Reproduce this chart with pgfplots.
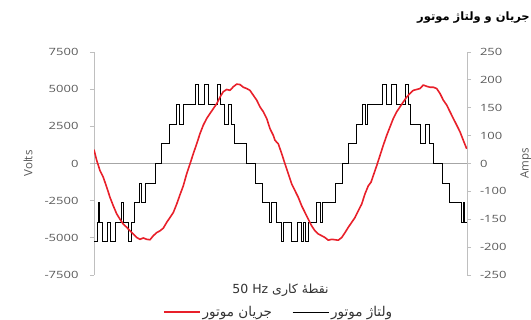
\documentclass[border=0pt]{standalone}
\usepackage{pgfplots}
\pgfplotsset{compat=1.18}
\usepackage{fontspec}
\setmainfont{Open Sans}
\newfontfamily\tickfont[FakeStretch=1.3]{Open Sans}
\newfontfamily\fa[Script=Arabic]{DejaVu Sans}
\TeXXeTstate=1
\definecolor{axgray}{HTML}{BFBFBF}
\definecolor{zerogray}{HTML}{A6A6A6}
\definecolor{lblgray}{HTML}{595959}
\definecolor{cred}{HTML}{E8202A}
\begin{document}
\begin{tikzpicture}[x=1pt,y=1pt]
\useasboundingbox (0,0) rectangle (531,320);
\begin{axis}[
  at={(94pt,45pt)}, anchor=south west, scale only axis,
  width=373pt, height=223pt,
  xmin=0, xmax=373, ymin=-7500, ymax=7500,
  axis x line*=bottom, x axis line style={draw=none}, xtick=\empty,
  axis y line*=left,
  axis line style={axgray, line width=0.9pt},
  tick align=outside, major tick length=4pt,
  tick style={axgray, line width=0.8pt},
  ytick={-7500,-5000,-2500,0,2500,5000,7500},
  yticklabels={-7500,-5000,-2500,0,2500,5000,7500},
  yticklabel style={font=\tickfont\fontsize{10}{12}\selectfont, text=lblgray, xshift=-8pt},
  extra y ticks={0}, extra y tick labels={},
  extra y tick style={grid=major, major grid style={zerogray, line width=0.8pt}, major tick length=0pt},
  ylabel={Volts},
  ylabel style={at={(axis description cs:-0.177,0.5)}, anchor=center, font=\fontsize{11.5}{13}\selectfont, text=lblgray},
  xlabel={\fa\beginR نقطهٔ کاری \beginL 50 Hz\endL\endR},
  xlabel style={at={(axis description cs:0.5,-0.067)}, anchor=center, font=\fa\fontsize{12.5}{14}\selectfont, text=black!80},
]
\addplot[black, line width=1pt, const plot] coordinates {
(0,-5280)(3.3,-3960)(4.7,-2640)(6,-3960)(8.7,-5280)(13.3,-3960)(16.7,-5280)(22,-3960)(27.7,-2640)(29.3,-3960)(34.3,-5280)(37.7,-3960)(41,-2640)(45.3,-1320)(47.7,-2640)(52,-1320)(62,0)(67.7,1320)(76,2640)(82.7,3960)(85.3,2640)(89.3,3960)(101,5280)(104.3,3960)(110,5280)(114.3,3960)(123.7,5280)(126,3960)(130.3,2640)(134,3960)(137,2640)(140.3,1320)(152.7,0)(161,-1320)(168.7,-2640)(175.3,-3960)(177.7,-2640)(182.7,-3960)(187,-5280)(189.3,-3960)(197.7,-5280)(203.7,-3960)(207,-5280)(209.3,-3960)(211,-5280)(214.3,-3960)(222.7,-2640)(226,-3960)(228.7,-2640)(241,-1320)(248.7,0)(254.3,1320)(262.7,2640)(268.3,3960)(271,2640)(273.7,3960)(288.3,5280)(292,3960)(297.7,5280)(302,3960)(311.7,5280)(314.3,3960)(316,2640)(326.7,1320)(331,2640)(335.3,1320)(339.3,0)(348.7,-1320)(355.3,-2640)(367.7,-3960)(369.5,-2640)(370.5,-3960)(373,-3960)
};
\end{axis}
\begin{axis}[
  at={(94pt,45pt)}, anchor=south west, scale only axis,
  width=373pt, height=223pt,
  xmin=0, xmax=373, ymin=-250, ymax=250,
  axis x line=none,
  axis y line*=right,
  axis line style={axgray, line width=0.9pt},
  tick align=outside, major tick length=4pt,
  tick style={axgray, line width=0.8pt},
  ytick={-250,-187.5,-125,-62.5,0,62.5,125,187.5,250},
  yticklabels={-250,-200,-150,-100,0,100,150,200,250},
  yticklabel style={font=\tickfont\fontsize{10}{12}\selectfont, text=lblgray, xshift=5.5pt},
  ylabel={Amps},
  ylabel style={at={(axis description cs:1.158,0.5)}, anchor=center, font=\fontsize{11.5}{13}\selectfont, text=lblgray},
  legend columns=2,
  legend style={at={(0.495,-0.166)}, anchor=center, draw=none, fill=none,
    font=\fa\fontsize{13.5}{15}\selectfont, text=black!80,
    /tikz/every even column/.append style={column sep=18pt}},
  legend cell align=left,
  legend image code/.code={\draw[#1] (0pt,0pt) -- (36pt,0pt);},
]
\addplot[cred, line width=1.6pt, line join=round] coordinates {
(0,31)(2.7,7)(6,-16)(9.3,-31)(12.7,-53)(16,-76)(19.3,-95)(22.7,-113)(26,-125)(29.3,-136)(32.7,-143)(36,-151)(39.3,-158)(42.7,-166)(46,-170)(49.3,-167)(52.7,-170)(56,-171)(59.3,-162)(62.7,-155)(66,-151)(69.3,-145)(72.7,-132)(76,-121)(79.3,-110)(82.7,-91)(86,-70)(89.3,-50)(92.7,-23)(96,-1)(99.3,22)(102.7,44)(106,67)(109.3,86)(112.7,101)(116,112)(119.3,123)(122.7,134)(126,149)(129.3,161)(132.7,166)(136,164)(139.3,172)(142.7,178)(146,177)(149.3,171)(152.7,168)(156,164)(159.3,153)(162.7,142)(166,127)(169.3,116)(172.7,101)(176,78)(179.3,63)(181,52)(184.3,44)(187.7,22)(191,-1)(194.3,-23)(197.7,-46)(201,-61)(204.3,-76)(207.7,-95)(211,-110)(214.3,-125)(217.7,-140)(221,-151)(224.3,-158)(227.7,-162)(231,-166)(234.3,-172)(237.7,-170)(241,-171)(244.3,-172)(247.7,-166)(251,-155)(254.3,-143)(257.7,-132)(261,-121)(264.3,-106)(267.7,-91)(271,-68)(274.3,-50)(277,-42)(279.3,-27)(282.7,-5)(286,18)(289.3,41)(292.7,63)(296,82)(299.3,101)(302.7,116)(306,127)(309.3,138)(312.7,149)(316,157)(319.3,164)(322.7,166)(326,168)(329.3,176)(332.7,173)(336,171)(339.3,171)(342.7,168)(346,157)(349.3,142)(352.7,131)(356,116)(359.3,101)(362.7,86)(366,71)(369.3,52)(372.7,33)
};
\addlegendentry{\beginR جریان موتور\endR}
\addlegendimage{black, line width=1pt}
\addlegendentry{\beginR ولتاژ موتور\endR}
\end{axis}
\node[anchor=east, font=\fa\bfseries\fontsize{11.5}{13}\selectfont, inner sep=0pt] at (530,302) {\beginR جریان و ولتاژ موتور\endR};
\end{tikzpicture}
\end{document}
